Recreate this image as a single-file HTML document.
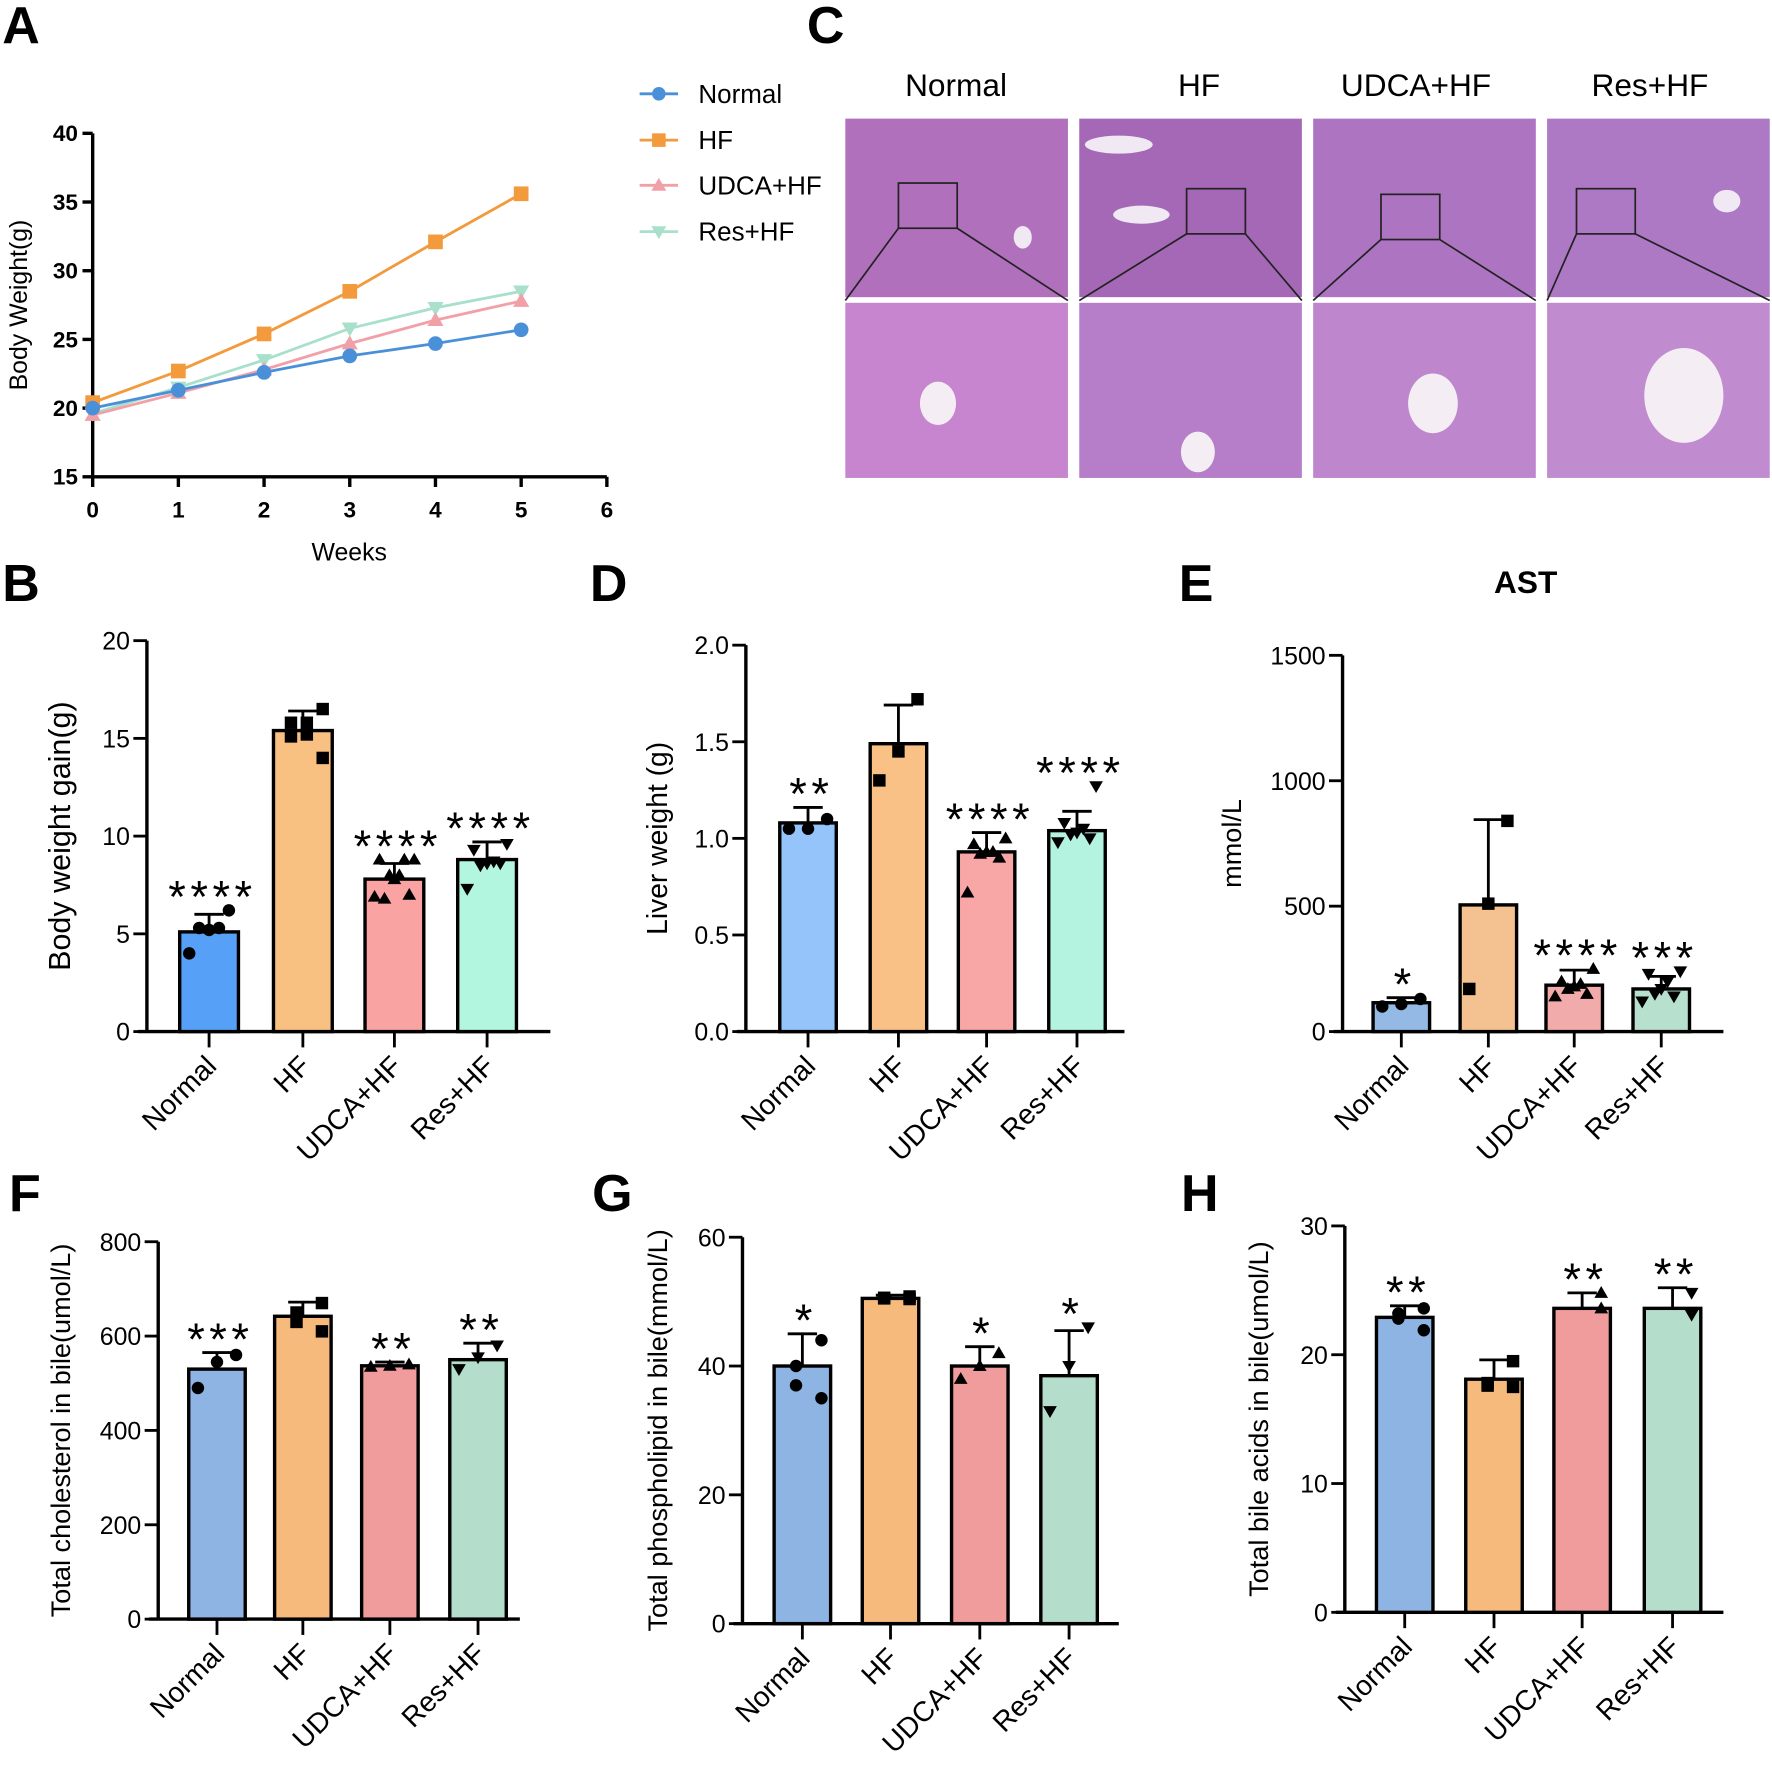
<!DOCTYPE html>
<html><head><meta charset="utf-8"><style>
html,body{margin:0;padding:0;background:#fff;}
svg{display:block;font-family:"Liberation Sans",Arial,sans-serif;}
</style></head><body>
<svg id="fig" width="1772" height="1766" viewBox="0 0 1568 1563" preserveAspectRatio="none" xmlns="http://www.w3.org/2000/svg">
<rect width="1568" height="1563" fill="#fff"/>
<g id="static">
<text x="2" y="38" font-size="46" font-weight="bold">A</text>
<text x="714" y="38" font-size="46" font-weight="bold">C</text>
<text x="2" y="532" font-size="46" font-weight="bold">B</text>
<text x="522" y="532" font-size="46" font-weight="bold">D</text>
<text x="1043" y="532" font-size="46" font-weight="bold">E</text>
<text x="8" y="1072" font-size="46" font-weight="bold">F</text>
<text x="524" y="1072" font-size="46" font-weight="bold">G</text>
<text x="1045" y="1072" font-size="46" font-weight="bold">H</text>
</g>
<g id="histo">
<text x="846" y="85" font-size="28" text-anchor="middle">Normal</text>
<text x="1061" y="85" font-size="28" text-anchor="middle">HF</text>
<text x="1253" y="85" font-size="28" text-anchor="middle">UDCA+HF</text>
<text x="1460" y="85" font-size="28" text-anchor="middle">Res+HF</text>
</g>
<g id="charts"></g>
</svg>
<script>
// ---------- Panel A data ----------
const weeks = [0,1,2,3,4,5];
const seriesNames = ["Normal","HF","UDCA+HF","Res+HF"];
const normalW = [20.0,21.3,22.6,23.8,24.7,25.7];
const hfW = [20.4,22.7,25.4,28.5,32.1,35.6];
const udcaW = [19.5,21.1,22.8,24.7,26.4,27.8];
const resW = [19.6,21.5,23.5,25.8,27.3,28.5];
const aYTicks = [15,20,25,30,35,40];
const aXTicks = [0,1,2,3,4,5,6];

// ---------- Bar panels data ----------
const cats = ["Normal","HF","UDCA+HF","Res+HF"];
const bMeans = [5.1,15.4,7.8,8.8];
const bErr = [0.9,1.0,0.8,0.9];
const bPts = [[6.2,5.3,5.2,5.3,4.0],[16.5,15.8,15.2,15.8,15.1,14.0],[8.8,8.8,8.8,8.0,7.8,8.0,6.8,7.0,6.9],[9.6,9.3,8.7,8.6,8.5,8.6,7.3]];
const bStars = ["****","","****","****"];
const bTicks = [0,5,10,15,20];

const dMeans = [1.08,1.49,0.93,1.04];
const dErr = [0.08,0.2,0.1,0.1];
const dPts = [[1.1,1.05,1.05],[1.72,1.45,1.3],[1.0,0.97,0.93,0.93,0.92,0.9,0.72],[1.27,1.08,1.05,1.03,1.02,1.0,0.98]];
const dStars = ["**","","****","****"];
const dTicks = [0,0.5,1.0,1.5,2.0];

const eMeans = [115,505,185,170];
const eErr = [20,340,60,50];
const ePts = [[130,110,100],[840,510,170],[250,200,190,180,170,150,140],[240,230,200,170,150,140,120]];
const eStars = ["*","","****","***"];
const eTicks = [0,500,1000,1500];

const fMeans = [530,642,537,550];
const fErr = [35,30,8,35];
const fPts = [[560,545,490],[670,650,630,610],[540,537,535],[580,555,530]];
const fStars = ["***","","**","**"];
const fTicks = [0,200,400,600,800];

const gMeans = [40,50.5,40,38.5];
const gErr = [5,0.5,3,7];
const gPts = [[44,40,37,35],[50.8,50.6,50.5,50.4],[42,40,38],[46,40,33]];
const gStars = ["*","","*","*"];
const gTicks = [0,20,40,60];

const hMeans = [22.9,18.1,23.6,23.6];
const hErr = [0.9,1.5,1.2,1.6];
const hPts = [[23.6,23.2,22.8,21.9],[19.5,17.8,17.6,17.5],[24.8,23.6],[24.8,23.1]];
const hStars = ["**","","**","**"];
const hTicks = [0,10,20,30];

const NS="http://www.w3.org/2000/svg";
const root=document.getElementById('charts');
function el(tag,attrs,parent){const e=document.createElementNS(NS,tag);for(const k in attrs)e.setAttribute(k,attrs[k]);(parent||root).appendChild(e);return e;}
function txt(x,y,s,size,anchor,parent,extra){const t=el('text',Object.assign({x:x,y:y,'font-size':size,'text-anchor':anchor||'middle'},extra||{}),parent);t.textContent=s;return t;}

function marker(g,shape,x,y,r,fill){
  let m;
  if(shape==='circle') m=el('circle',{cx:x,cy:y,r:r,fill:fill},g);
  else if(shape==='square') m=el('rect',{x:x-r,y:y-r,width:2*r,height:2*r,fill:fill},g);
  else if(shape==='tri') m=el('polygon',{points:`${x},${y-r*1.1} ${x-r*1.1},${y+r*0.8} ${x+r*1.1},${y+r*0.8}`,fill:fill},g);
  else m=el('polygon',{points:`${x},${y+r*1.1} ${x-r*1.1},${y-r*0.8} ${x+r*1.1},${y-r*0.8}`,fill:fill},g);
  return m;
}

// ---------- Histology images ----------
(function(){
  const h=document.getElementById('histo');
  const xs=[748,955,1162,1369];
  const topC=['#b070bc','#a468b6','#ad74c2','#ad78c4'];
  const botC=['#c685ce','#b67ec8','#be86cd','#c08bcf'];
  const boxes=[[795,162,52,40],[1050,167,52,40],[1222,172,52,40],[1395,167,52,40]];
  xs.forEach((x,i)=>{
    const g=el('g',{},h);
    
    
    el('rect',{x:x,y:105,width:197,height:158,fill:topC[i]},g);
    el('rect',{x:x,y:268,width:197,height:155,fill:botC[i]},g);
    const b=boxes[i];
    el('rect',{x:b[0],y:b[1],width:b[2],height:b[3],fill:'none',stroke:'#222','stroke-width':1.5},g);
    el('line',{x1:b[0],y1:b[1]+b[3],x2:x,y2:266,stroke:'#222','stroke-width':1.5},g);
    el('line',{x1:b[0]+b[2],y1:b[1]+b[3],x2:x+197,y2:266,stroke:'#222','stroke-width':1.5},g);
  });
  [[1268,357,22],[830,357,16],[1490,350,35],[1060,400,15]].forEach(v=>el('ellipse',{cx:v[0],cy:v[1],rx:v[2],ry:v[2]*1.2,fill:'#f4eef4'},h));
  [[990,128,30,8],[1010,190,25,8],[1528,178,12,10],[905,210,8,10]].forEach(v=>el('ellipse',{cx:v[0],cy:v[1],rx:v[2],ry:v[3],fill:'#f0e8f2'},h));
})();

// ---------- Panel A ----------
(function(){
  const g=el('g',{});
  
  
  const x0=82,x1=537,y0=422,y1=118;
  const sx=v=>x0+(v-0)/(6-0)*(x1-x0);
  const sy=v=>y0-(v-15)/(40-15)*(y0-y1);
  el('line',{x1:x0,y1:y1,x2:x0,y2:y0,stroke:'#000','stroke-width':3},g);
  el('line',{x1:x0,y1:y0,x2:x1,y2:y0,stroke:'#000','stroke-width':3},g);
  aYTicks.forEach(t=>{el('line',{x1:x0-9,y1:sy(t),x2:x0,y2:sy(t),stroke:'#000','stroke-width':3},g);txt(x0-13,sy(t)+7,String(t),20,'end',g,{'font-weight':'bold'});});
  aXTicks.forEach(t=>{el('line',{x1:sx(t),y1:y0,x2:sx(t),y2:y0+9,stroke:'#000','stroke-width':3},g);txt(sx(t),y0+36,String(t),20,'middle',g,{'font-weight':'bold'});});
  const yl=txt(0,0,'Body Weight(g)',22,'middle',g);yl.setAttribute('transform',`translate(24,${(y0+y1)/2+0}) rotate(-90)`);
  
  const xl=txt(309,496,'Weeks',22,'middle',g);
  
  const data=[normalW,hfW,udcaW,resW];
  const cols=['#4a90d9','#f39a3c','#f2a0a8','#a8e0cc'];
  const shapes=['circle','square','tri','itri'];
  const order=[3,2,1,0];
  order.forEach(i=>{
    const s=el('g',{},g);
    
    
    el('polyline',{points:weeks.map((w,k)=>sx(w)+','+sy(data[i][k])).join(' '),fill:'none',stroke:cols[i],'stroke-width':2.5},s);
    weeks.forEach((w,k)=>{const m=marker(s,shapes[i],sx(w),sy(data[i][k]),6.5,cols[i]);
      });
  });
  const lg=el('g',{},g);
  
  
  const ly=[83,124,164,205];
  seriesNames.forEach((n,i)=>{
    const e=el('g',{},lg);
    
    
    el('line',{x1:566,y1:ly[i],x2:600,y2:ly[i],stroke:cols[i],'stroke-width':2.5},e);
    marker(e,shapes[i],583,ly[i],6,cols[i]);
    txt(618,ly[i]+8,n,23,'start',e);
  });
})();

// ---------- Bar chart builder ----------
function barChart(name,cfg){
  const g=el('g',{});
  
  
  const {ax,axR,y0,y1,vmax,centers,bw,means,errs,pts,stars,ticks,fmt,colors,ylab,ylx,ylSize}=cfg;
  const sy=v=>y0-v/vmax*(y0-y1);
  el('line',{x1:ax,y1:y1,x2:ax,y2:y0,stroke:'#000','stroke-width':3},g);
  el('line',{x1:ax-8,y1:y0,x2:axR,y2:y0,stroke:'#000','stroke-width':3},g);
  ticks.forEach(t=>{el('line',{x1:ax-12,y1:sy(t),x2:ax,y2:sy(t),stroke:'#000','stroke-width':2.5},g);txt(ax-15,sy(t)+8,fmt(t),22,'end',g);});
  const shapes=['circle','square','tri','itri'];
  centers.forEach((c,i)=>{
    const bar=el('rect',{x:c-bw/2,y:sy(means[i]),width:bw,height:y0-sy(means[i]),fill:colors[i],stroke:'#000','stroke-width':3},g);
    
    
    const et=sy(means[i]+errs[i]);
    el('line',{x1:c,y1:sy(means[i]),x2:c,y2:et,stroke:'#000','stroke-width':2.5},g);
    el('line',{x1:c-13,y1:et,x2:c+13,y2:et,stroke:'#000','stroke-width':2.5},g);
    const n=pts[i].length;
    pts[i].forEach((p,k)=>{
      const off=n>1?(k-(n-1)/2)*(bw*0.75/(n-1)):0;
      const m=marker(g,shapes[i],c+off*((k%2)?1:-1)*0.9,sy(p),5.5,'#000');
      
    });
    if(stars[i]){
      const top=Math.min(et,...pts[i].map(sy));
      const st=txt(c+3,top+2,stars[i],40,'middle',g,{'letter-spacing':'4'});
      }
    el('line',{x1:c,y1:y0,x2:c,y2:y0+14,stroke:'#000','stroke-width':2.5},g);
    const lb=txt(0,0,cats[i],25,'end',g);
    lb.setAttribute('transform',`translate(${c+8},${y0+32}) rotate(-45)`);
    
  });
  const yl=txt(0,0,ylab,ylSize||24,'middle',g);
  yl.setAttribute('transform',`translate(${ylx},${(y0+y1)/2}) rotate(-90)`);
  
  return g;
}
const int=t=>String(t), one=t=>t.toFixed(1);
barChart('body-weight-gain-chart',{ax:130,axR:487,y0:913,y1:567,vmax:20,centers:[185,268,349,431],bw:52,means:bMeans,errs:bErr,pts:bPts,stars:bStars,ticks:bTicks,fmt:int,colors:['#56a0f7','#f8c081','#f9a3a3','#b2f6e0'],ylab:'Body weight gain(g)',ylx:62,ylSize:27});
barChart('liver-weight-chart',{ax:660,axR:995,y0:913,y1:571,vmax:2,centers:[715,795,873,953],bw:50,means:dMeans,errs:dErr,pts:dPts,stars:dStars,ticks:dTicks,fmt:one,colors:['#95c4fa','#f9c185','#f9a6a6','#b4f3df'],ylab:'Liver weight (g)',ylx:590,ylSize:25});
const ae=barChart('ast-chart',{ax:1188,axR:1525,y0:913,y1:580,vmax:1500,centers:[1240,1317,1393,1470],bw:50,means:eMeans,errs:eErr,pts:ePts,stars:eStars,ticks:eTicks,fmt:int,colors:['#93b9e4','#f4c190','#f2abab','#b7e0ce'],ylab:'mmol/L',ylx:1098});
{const t=txt(1350,525,'AST',28,'middle',ae,{'font-weight':'bold'});}
barChart('total-cholesterol-chart',{ax:140,axR:460,y0:1433,y1:1099,vmax:800,centers:[192,268,345,423],bw:50,means:fMeans,errs:fErr,pts:fPts,stars:fStars,ticks:fTicks,fmt:int,colors:['#8eb4e3','#f6ba7d','#f19c9c','#b4ddcc'],ylab:'Total cholesterol in bile(umol/L)',ylx:62});
barChart('total-phospholipid-chart',{ax:657,axR:990,y0:1437,y1:1095,vmax:60,centers:[710,788,867,946],bw:50,means:gMeans,errs:gErr,pts:gPts,stars:gStars,ticks:gTicks,fmt:int,colors:['#8eb4e3','#f6ba7d','#f19c9c','#b4ddcc'],ylab:'Total phospholipid in bile(mmol/L)',ylx:590});
barChart('total-bile-acids-chart',{ax:1190,axR:1525,y0:1427,y1:1085,vmax:30,centers:[1243,1322,1400,1480],bw:50,means:hMeans,errs:hErr,pts:hPts,stars:hStars,ticks:hTicks,fmt:int,colors:['#8eb4e3','#f6ba7d','#f19c9c','#b4ddcc'],ylab:'Total bile acids in bile(umol/L)',ylx:1122});
</script>
</body></html>
